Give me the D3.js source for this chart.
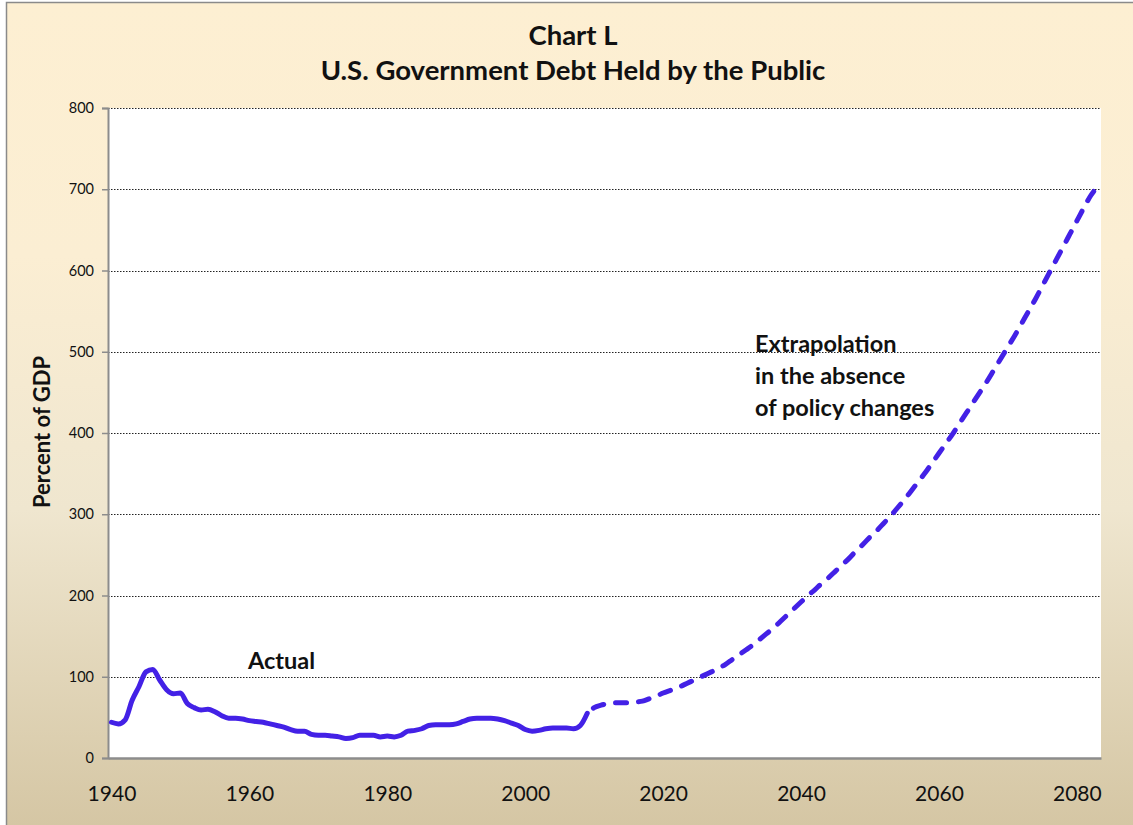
<!DOCTYPE html>
<html>
<head>
<meta charset="utf-8">
<script src="https://cdn.jsdelivr.net/npm/d3@7"></script>
<style>
  html, body { margin: 0; padding: 0; background: #fff; }
  text { font-family: Lato, "Open Sans", sans-serif; }
</style>
</head>
<body>
<div id="chart"></div>
<script>
// actual debt held by the public, percent of GDP, 1940-2009
const actualYears = d3.range(1940, 2010);
const actualValues = [
  44, 42, 47, 71, 88, 106, 109, 96, 84, 79,
  80, 67, 62, 59, 60, 57, 52, 49, 49, 48,
  46, 45, 44, 42, 40, 38, 35, 33, 33, 29,
  28, 28, 27, 26, 24, 25, 28, 28, 28, 26,
  27, 26, 28, 33, 34, 36, 40, 41, 41, 41,
  42, 45, 48, 49, 49, 49, 48, 46, 43, 40,
  35, 33, 34, 36, 37, 37, 37, 36, 40, 55
];

// extrapolation, 2009-2083
const projYears = d3.range(2009, 2084);
const projValues = [
  55, 62, 65, 67, 68, 68, 68, 69, 70, 73,
  76, 80, 83, 86, 90, 94, 98, 102, 106, 110,
  115, 121, 127, 133, 139, 146, 153, 160, 168, 176,
  184, 192, 200, 207, 215, 222, 230, 238, 246, 255,
  263, 272, 280, 289, 298, 308, 318, 329, 340, 351,
  363, 375, 387, 399, 412, 425, 438, 451, 464, 478,
  492, 506, 520, 535, 550, 565, 581, 597, 613, 629,
  645, 661, 677, 692, 703
];

const yTicks = [0, 100, 200, 300, 400, 500, 600, 700, 800];
const xTicks = [1940, 1960, 1980, 2000, 2020, 2040, 2060, 2080];

const titleLines = ["Chart L", "U.S. Government Debt Held by the Public"];
const noteLines = ["Extrapolation", "in the absence", "of policy changes"];

const W = 1133, H = 825;
const margin = {top: 108, right: 32, bottom: 67, left: 108};
const lineColor = "#4321e6";

const svg = d3.select("#chart").append("svg")
  .attr("width", W)
  .attr("height", H);

const defs = svg.append("defs");
const grad = defs.append("linearGradient")
  .attr("id", "bg")
  .attr("x1", 0).attr("y1", 0).attr("x2", 0).attr("y2", 1);
grad.append("stop").attr("offset", "0%").attr("stop-color", "#fdefd2");
grad.append("stop").attr("offset", "30%").attr("stop-color", "#fbeed3");
grad.append("stop").attr("offset", "60%").attr("stop-color", "#efe6cf");
grad.append("stop").attr("offset", "100%").attr("stop-color", "#d3c4a1");

svg.append("rect")
  .attr("x", 6.5).attr("y", 2.5)
  .attr("width", W + 20).attr("height", H + 20)
  .attr("fill", "url(#bg)")
  .attr("stroke", "#8a8a8a")
  .attr("stroke-width", 1.5);

const x = d3.scaleLinear()
  .domain([1939.5, 2083.5])
  .range([margin.left, W - margin.right]);

const y = d3.scaleLinear()
  .domain([0, 800])
  .range([H - margin.bottom, margin.top]);

// plot area
svg.append("rect")
  .attr("x", x.range()[0])
  .attr("y", y(800))
  .attr("width", x.range()[1] - x.range()[0])
  .attr("height", y(0) - y(800))
  .attr("fill", "#fff");

// gridlines
svg.append("g")
  .selectAll("line")
  .data(yTicks.filter(d => d > 0))
  .join("line")
    .attr("x1", x.range()[0])
    .attr("x2", x.range()[1])
    .attr("y1", d => Math.round(y(d)) + 0.5)
    .attr("y2", d => Math.round(y(d)) + 0.5)
    .attr("stroke", "#222")
    .attr("stroke-width", 1)
    .attr("stroke-dasharray", "1.5,1.5");

// y axis
const yAxis = svg.append("g")
  .attr("transform", `translate(${x.range()[0]},0)`)
  .call(d3.axisLeft(y).tickValues(yTicks).tickSize(6).tickPadding(8));
yAxis.select(".domain").attr("stroke", "#8c8c8c").attr("stroke-width", 2);
yAxis.selectAll(".tick line").attr("stroke", "#8c8c8c").attr("stroke-width", 1.5);
yAxis.selectAll(".tick text")
  .attr("font-family", "Lato, sans-serif")
  .attr("font-size", 14.5)
  .attr("fill", "#111");

// x axis
const xAxis = svg.append("g")
  .attr("transform", `translate(0,${y(0)})`)
  .call(d3.axisBottom(x).tickValues(xTicks).tickFormat(d3.format("d")).tickSize(0).tickPadding(28));
xAxis.select(".domain").attr("stroke", "#8c8c8c").attr("stroke-width", 2.5);
xAxis.selectAll(".tick text")
  .attr("font-family", "Lato, sans-serif")
  .attr("font-size", 21)
  .attr("fill", "#111");

// lines
const actual = actualYears.map((yr, i) => ({year: yr, value: actualValues[i]}));
const proj = projYears.map((yr, i) => ({year: yr, value: projValues[i]}));

const line = d3.line()
  .x(d => x(d.year))
  .y(d => y(d.value))
  .curve(d3.curveMonotoneX);

svg.append("path")
  .datum(actual)
  .attr("d", line)
  .attr("fill", "none")
  .attr("stroke", lineColor)
  .attr("stroke-width", 5)
  .attr("stroke-linejoin", "round")
  .attr("stroke-linecap", "round");

svg.append("path")
  .datum(proj)
  .attr("d", line)
  .attr("fill", "none")
  .attr("stroke", lineColor)
  .attr("stroke-width", 5)
  .attr("stroke-dasharray", "11,12")
  .attr("stroke-dashoffset", -8)
  .attr("stroke-linecap", "round");

// titles
svg.append("g")
  .selectAll("text")
  .data(titleLines)
  .join("text")
    .attr("x", 573)
    .attr("y", (d, i) => 45 + i * 35)
    .attr("text-anchor", "middle")
    .attr("font-size", 27.5)
    .attr("font-weight", "bold")
    .attr("fill", "#111")
    .text(d => d);

svg.append("text")
  .attr("transform", "translate(50,432) rotate(-90)")
  .attr("text-anchor", "middle")
  .attr("font-size", 22)
  .attr("font-weight", "bold")
  .attr("fill", "#111")
  .text("Percent of GDP");

svg.append("text")
  .attr("x", 248)
  .attr("y", 669)
  .attr("font-size", 23.5)
  .attr("font-weight", "bold")
  .attr("fill", "#111")
  .text("Actual");

svg.append("g")
  .selectAll("text")
  .data(noteLines)
  .join("text")
    .attr("x", 755)
    .attr("y", (d, i) => 352 + i * 32)
    .attr("font-size", 23.5)
    .attr("font-weight", "bold")
    .attr("fill", "#111")
    .text(d => d);
</script>
</body>
</html>
